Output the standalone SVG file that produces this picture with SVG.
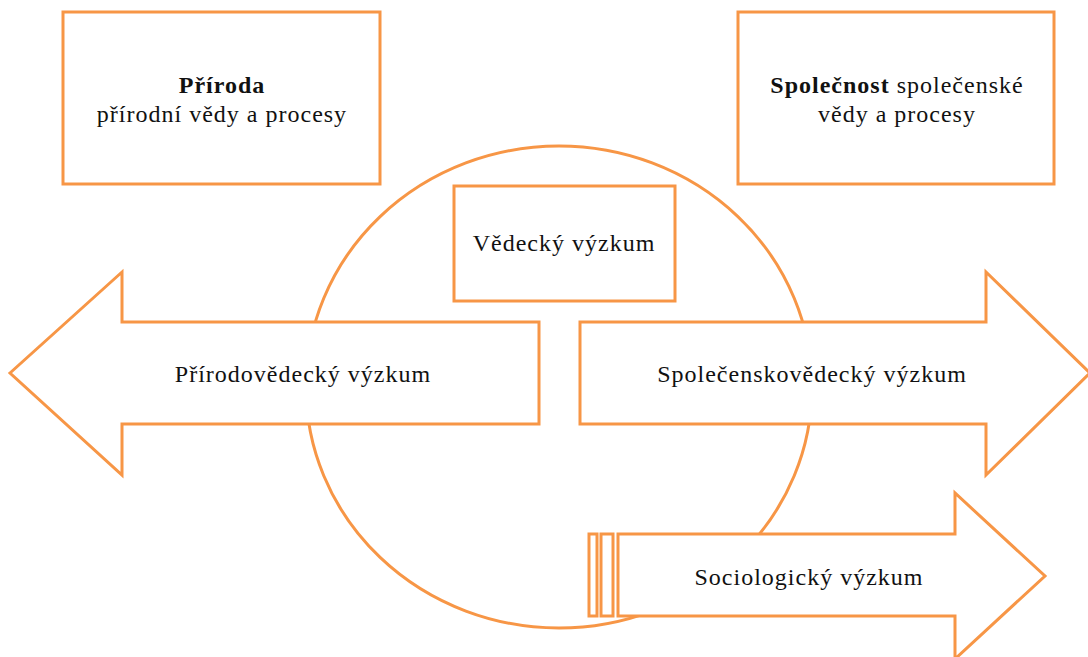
<svg xmlns="http://www.w3.org/2000/svg" width="1088" height="657" viewBox="0 0 1088 657">
<style>
.sh{fill:#fff;stroke:#F79646;stroke-width:3;stroke-linejoin:miter}
.ring{fill:none;stroke:#F79646;stroke-width:3}
.t{font-family:"Liberation Serif","Times New Roman",serif;font-size:24px;fill:#111;text-anchor:middle;letter-spacing:1px}
.b{font-weight:bold}
</style>
<rect width="1088" height="657" fill="#fff"/>
<g id="circle"><ellipse class="ring" cx="559" cy="387" rx="253" ry="241"/></g>
<g id="connectors"></g>
<g id="priroda">
<rect class="sh" x="63" y="12" width="317" height="172"/>
<text class="t" x="222" y="93"><tspan class="b">Příroda</tspan></text>
<text class="t" x="222" y="122">přírodní vědy a procesy</text>
</g>
<g id="spolecnost">
<rect class="sh" x="738" y="12" width="316" height="172"/>
<text class="t" x="897" y="93"><tspan class="b">Společnost</tspan> společenské</text>
<text class="t" x="897" y="122">vědy a procesy</text>
</g>
<g id="vedecky">
<rect class="sh" x="454" y="186" width="221" height="115"/>
<text class="t" x="564" y="251">Vědecký výzkum</text>
</g>
<g id="prirodovedecky">
<polygon class="sh" points="10,373 122,272 122,322 539,322 539,424 122,424 122,475"/>
<text class="t" x="303" y="382">Přírodovědecký výzkum</text>
</g>
<g id="spolecenskovedecky">
<polygon class="sh" points="580,322 986,322 986,272 1090,373 986,475 986,424 580,424"/>
<text class="t" x="812" y="382">Společenskovědecký výzkum</text>
</g>
<g id="sociologicky">
<rect class="sh" x="589" y="534" width="8" height="82"/>
<rect class="sh" x="601" y="534" width="12" height="82"/>
<polygon class="sh" points="618,534 955,534 955,493 1045,576 955,659 955,616 618,616"/>
<text class="t" x="809" y="585">Sociologický výzkum</text>
</g>
</svg>
